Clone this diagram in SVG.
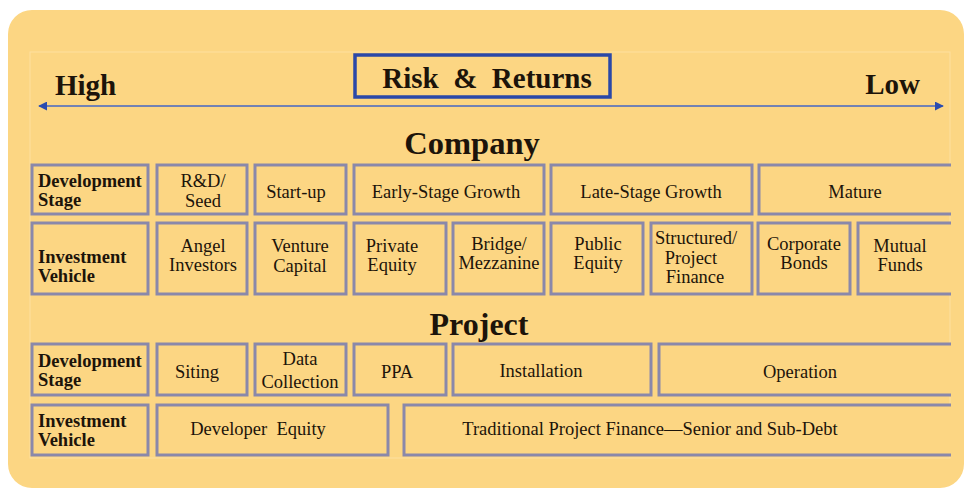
<svg xmlns="http://www.w3.org/2000/svg" width="964" height="489" viewBox="0 0 964 489">
<style>
.bx{fill:#fcd683;stroke:#8a88aa;stroke-width:3}
text{font-family:Liberation Serif,serif;fill:#1c140a}
.t{font-size:18.5px;text-anchor:middle}
.lb{font-size:18.5px;font-weight:bold}
.hd{font-weight:bold}
</style>
<defs>
<clipPath id="cp"><rect x="0" y="0" width="951" height="489"/></clipPath>
<marker id="ah" viewBox="0 0 10 10" refX="9" refY="5" markerWidth="9" markerHeight="9" markerUnits="userSpaceOnUse" orient="auto-start-reverse"><path d="M0,0 L10,5 L0,10 z" fill="#2a4cb0"/></marker>
</defs>
<rect x="0" y="0" width="964" height="489" fill="#ffffff"/>
<rect x="8" y="10" width="956" height="478" rx="24" fill="#fcd683"/>
<rect x="30" y="52" width="920" height="406" fill="none" stroke="#fde0a0" stroke-width="1"/>

<g id="risk-returns">
<rect x="355" y="55" width="255" height="42" fill="none" stroke="#2a48a8" stroke-width="3.5"/>
<text class="hd" x="487" y="88" font-size="29" text-anchor="middle" xml:space="preserve">Risk  &amp;  Returns</text>
</g>
<g id="high"><text class="hd" x="55" y="95" font-size="29">High</text></g>
<g id="low"><text class="hd" x="920" y="94" font-size="29" text-anchor="end">Low</text></g>

<g id="connectors">
<line x1="39" y1="106" x2="943" y2="106" stroke="#7282b4" stroke-width="2" marker-start="url(#ah)" marker-end="url(#ah)"/>
</g>

<g id="company"><text class="hd" x="472" y="154" font-size="32.5" text-anchor="middle">Company</text></g>
<g id="project"><text class="hd" x="479" y="335" font-size="32" text-anchor="middle">Project</text></g>

<g clip-path="url(#cp)">
<g id="c-dev-label"><rect class="bx" x="32" y="165" width="116" height="49"/><text class="lb" x="38" y="187">Development</text><text class="lb" x="38" y="206">Stage</text></g>
<g id="c-rd"><rect class="bx" x="157" y="165" width="90" height="49"/><text class="t" x="203" y="187">R&amp;D/</text><text class="t" x="203" y="207">Seed</text></g>
<g id="c-startup"><rect class="bx" x="255" y="165" width="91" height="49"/><text class="t" x="296" y="198">Start-up</text></g>
<g id="c-early"><rect class="bx" x="354" y="165" width="190" height="49"/><text class="t" x="446" y="198">Early-Stage Growth</text></g>
<g id="c-late"><rect class="bx" x="551" y="165" width="201" height="49"/><text class="t" x="651" y="198">Late-Stage Growth</text></g>
<g id="c-mature"><rect class="bx" x="759" y="165" width="205" height="49"/><text class="t" x="855" y="198">Mature</text></g>

<g id="c-inv-label"><rect class="bx" x="32" y="223" width="116" height="71"/><text class="lb" x="38" y="263">Investment</text><text class="lb" x="38" y="282">Vehicle</text></g>
<g id="c-angel"><rect class="bx" x="157" y="223" width="90" height="71"/><text class="t" x="203" y="252">Angel</text><text class="t" x="203" y="271">Investors</text></g>
<g id="c-venture"><rect class="bx" x="255" y="223" width="91" height="71"/><text class="t" x="300" y="252">Venture</text><text class="t" x="300" y="272">Capital</text></g>
<g id="c-private"><rect class="bx" x="354" y="223" width="92" height="71"/><text class="t" x="392" y="252">Private</text><text class="t" x="392" y="271">Equity</text></g>
<g id="c-bridge"><rect class="bx" x="453" y="223" width="91" height="71"/><text class="t" x="499" y="250">Bridge/</text><text class="t" x="499" y="269">Mezzanine</text></g>
<g id="c-public"><rect class="bx" x="551" y="223" width="92" height="71"/><text class="t" x="598" y="250">Public</text><text class="t" x="598" y="269">Equity</text></g>
<g id="c-structured"><rect class="bx" x="651" y="223" width="101" height="71"/><text class="t" x="696" y="244">Structured/</text><text class="t" x="691" y="264">Project</text><text class="t" x="695" y="283">Finance</text></g>
<g id="c-corporate"><rect class="bx" x="758" y="223" width="92" height="71"/><text class="t" x="804" y="250">Corporate</text><text class="t" x="804" y="269">Bonds</text></g>
<g id="c-mutual"><rect class="bx" x="858" y="223" width="106" height="71"/><text class="t" x="900" y="252">Mutual</text><text class="t" x="900" y="271">Funds</text></g>

<g id="p-dev-label"><rect class="bx" x="32" y="344" width="116" height="51"/><text class="lb" x="38" y="367">Development</text><text class="lb" x="38" y="386">Stage</text></g>
<g id="p-siting"><rect class="bx" x="157" y="344" width="90" height="51"/><text class="t" x="197" y="378">Siting</text></g>
<g id="p-data"><rect class="bx" x="255" y="344" width="91" height="51"/><text class="t" x="300" y="365">Data</text><text class="t" x="300" y="388">Collection</text></g>
<g id="p-ppa"><rect class="bx" x="354" y="344" width="92" height="51"/><text class="t" x="397" y="378">PPA</text></g>
<g id="p-install"><rect class="bx" x="453" y="344" width="198" height="51"/><text class="t" x="541" y="377">Installation</text></g>
<g id="p-operation"><rect class="bx" x="659" y="344" width="305" height="51"/><text class="t" x="800" y="378" font-size="22">Operation</text></g>

<g id="p-inv-label"><rect class="bx" x="32" y="405" width="116" height="50"/><text class="lb" x="38" y="427" font-size="17.5">Investment</text><text class="lb" x="38" y="446" font-size="17.5">Vehicle</text></g>
<g id="p-developer"><rect class="bx" x="157" y="405" width="231" height="50"/><text class="t" x="258" y="435" xml:space="preserve">Developer  Equity</text></g>
<g id="p-traditional"><rect class="bx" x="404" y="405" width="560" height="50"/><text class="t" x="650" y="435">Traditional Project Finance—Senior and Sub-Debt</text></g>
</g>
</svg>
